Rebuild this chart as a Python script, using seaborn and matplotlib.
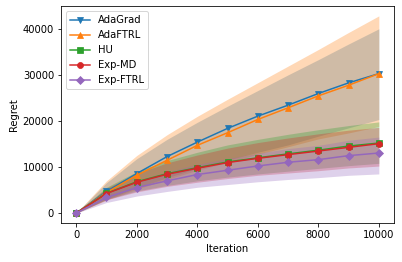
import numpy as np
import pandas as pd
import matplotlib
matplotlib.use('Agg')
import matplotlib.pyplot as plt
import seaborn as sns

# Iterations
iters = [0, 1000, 2000, 3000, 4000, 5000, 6000, 7000, 8000, 9000, 10000]

# Mean regret per method
adagrad = [0, 4690, 8580, 12260, 15400, 18380, 21040, 23420, 25950, 28260, 30270]
adaftrl = [0, 4470, 8220, 11460, 14700, 17440, 20320, 22850, 25440, 27750, 30270]
hu = [0, 4300, 6800, 8550, 9850, 11100, 12000, 12850, 13650, 14550, 15200]
exp_md = [0, 4250, 6700, 8430, 9730, 10960, 11890, 12690, 13470, 14270, 15070]
exp_ftrl = [0, 3390, 5550, 6990, 8370, 9300, 10230, 11030, 11600, 12470, 13040]

# Shaded band edges
adagrad_hi = [0, 6600, 11800, 16000, 19700, 23200, 26600, 30000, 33300, 36700, 40000]
adagrad_lo = [0, 3000, 5500, 7700, 9700, 11500, 13200, 14800, 16700, 18500, 20300]
adaftrl_hi = [0, 7000, 12500, 17000, 21000, 24700, 28300, 31900, 35500, 39200, 42800]
adaftrl_lo = [0, 2800, 5200, 7300, 9300, 11000, 12800, 14400, 16100, 17400, 18800]
hu_hi = [0, 5600, 9000, 11400, 13200, 14800, 16000, 17100, 18100, 19000, 19800]
hu_lo = [0, 3000, 4800, 6000, 7000, 7800, 8500, 9100, 9700, 10300, 10800]
exp_md_hi = [0, 5400, 8600, 10900, 12600, 14100, 15300, 16300, 17200, 18000, 18600]
exp_md_lo = [0, 2900, 4600, 5800, 6700, 7500, 8200, 8700, 9200, 9800, 10200]
exp_ftrl_hi = [0, 4300, 7000, 8900, 10600, 11800, 13000, 14000, 14700, 15800, 16500]
exp_ftrl_lo = [0, 2300, 3700, 4700, 5600, 6200, 6800, 7300, 7700, 8200, 8500]

methods = ['AdaGrad', 'AdaFTRL', 'HU', 'Exp-MD', 'Exp-FTRL']
means = [adagrad, adaftrl, hu, exp_md, exp_ftrl]
highs = [adagrad_hi, adaftrl_hi, hu_hi, exp_md_hi, exp_ftrl_hi]
lows = [adagrad_lo, adaftrl_lo, hu_lo, exp_md_lo, exp_ftrl_lo]
markers = ['v', '^', 's', 'o', 'D']
colors = sns.color_palette('tab10', 5)

fig, ax = plt.subplots(figsize=(402 / 72, 262 / 72), dpi=72)
fig.subplots_adjust(left=0.152, right=0.980, top=0.977, bottom=0.149)

# Bands first, then mean curves on top
for lo, hi, c in zip(lows, highs, colors):
    ax.fill_between(iters, lo, hi, color=c, alpha=0.3, linewidth=0)

for name, m, mk, c in zip(methods, means, markers, colors):
    df = pd.DataFrame({'Iteration': iters, 'Regret': m})
    sns.lineplot(data=df, x='Iteration', y='Regret', ax=ax, color=c,
                 marker=mk, markersize=6, markeredgecolor=c, linewidth=1.5,
                 label=name)

ax.set_xlabel('Iteration')
ax.set_ylabel('Regret')
ax.legend(loc='upper left')

fig.savefig('out.png', dpi=72)
